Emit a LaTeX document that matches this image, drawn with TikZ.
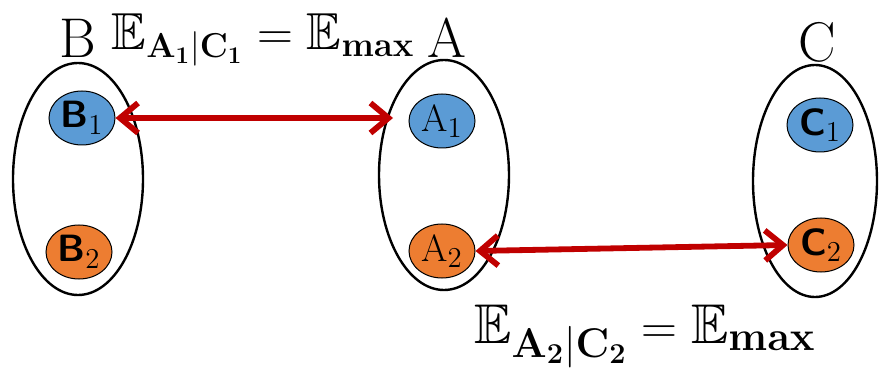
\documentclass[tikz,border=0pt]{standalone}
\usepackage{amsmath,amssymb}
\usepackage{tikz}
\usetikzlibrary{arrows.meta,shapes.geometric}

\definecolor{itemblue}{RGB}{91,155,213}
\definecolor{itemorange}{RGB}{237,125,49}
\definecolor{linkred}{RGB}{192,0,0}

\begin{document}
\begin{tikzpicture}[
    x=0.5pt, y=-0.5pt,
    setbox/.style={draw, ellipse, line width=1.2pt, minimum width=65pt, minimum height=116pt},
    itembox/.style={draw, ellipse, line width=0.5pt, minimum width=33pt, minimum height=27pt, inner sep=0pt, font=\fontsize{19}{22}\selectfont},
    blueitem/.style={itembox, fill=itemblue},
    orangeitem/.style={itembox, fill=itemorange},
    setlabel/.style={font=\fontsize{28}{32}\selectfont},
    link/.style={{Straight Barb[length=9pt,width=15pt]}-{Straight Barb[length=9pt,width=15pt]}, line width=2.9pt, linkred}
]
\useasboundingbox (0,0) rectangle (879,369);

\node[setbox] (setB) at (78,179) {};
\node[setbox, minimum height=115pt] (setA) at (444,175) {};
\node[setbox, minimum width=62pt] (setC) at (815,181) {};

\node[setlabel] (labB) at (78,38) {B};
\node[setlabel] (labA) at (447,38) {A};
\node[setlabel] (labC) at (817,42) {C};

\node[blueitem] (B1) at (82,118) {\textsf{\bfseries B}$_1$};
\node[orangeitem] (B2) at (79,252) {\textsf{\bfseries B}$_2$};
\node[blueitem] (A1) at (442,121) {A$_1$};
\node[orangeitem] (A2) at (442,251) {A$_2$};
\node[blueitem] (C1) at (820,125) {\textsf{\bfseries C}$_1$};
\node[orangeitem] (C2) at (821,245) {\textsf{\bfseries C}$_2$};

\coordinate (Aleft) at (393,118);
\draw[link] (B1.east) -- (Aleft);
\draw[link] (A2.east) -- (C2.west);

\node[font=\fontsize{26}{30}\selectfont] (eqtop) at (263,40) {$\mathbb{E}_{\mathbf{A_1|C_1}}=\mathbb{E}_{\mathbf{max}}$};
\node[font=\fontsize{28}{32}\selectfont] (eqbottom) at (645,336) {$\mathbb{E}_{\mathbf{A_2|C_2}}=\mathbb{E}_{\mathbf{max}}$};
\end{tikzpicture}
\end{document}
